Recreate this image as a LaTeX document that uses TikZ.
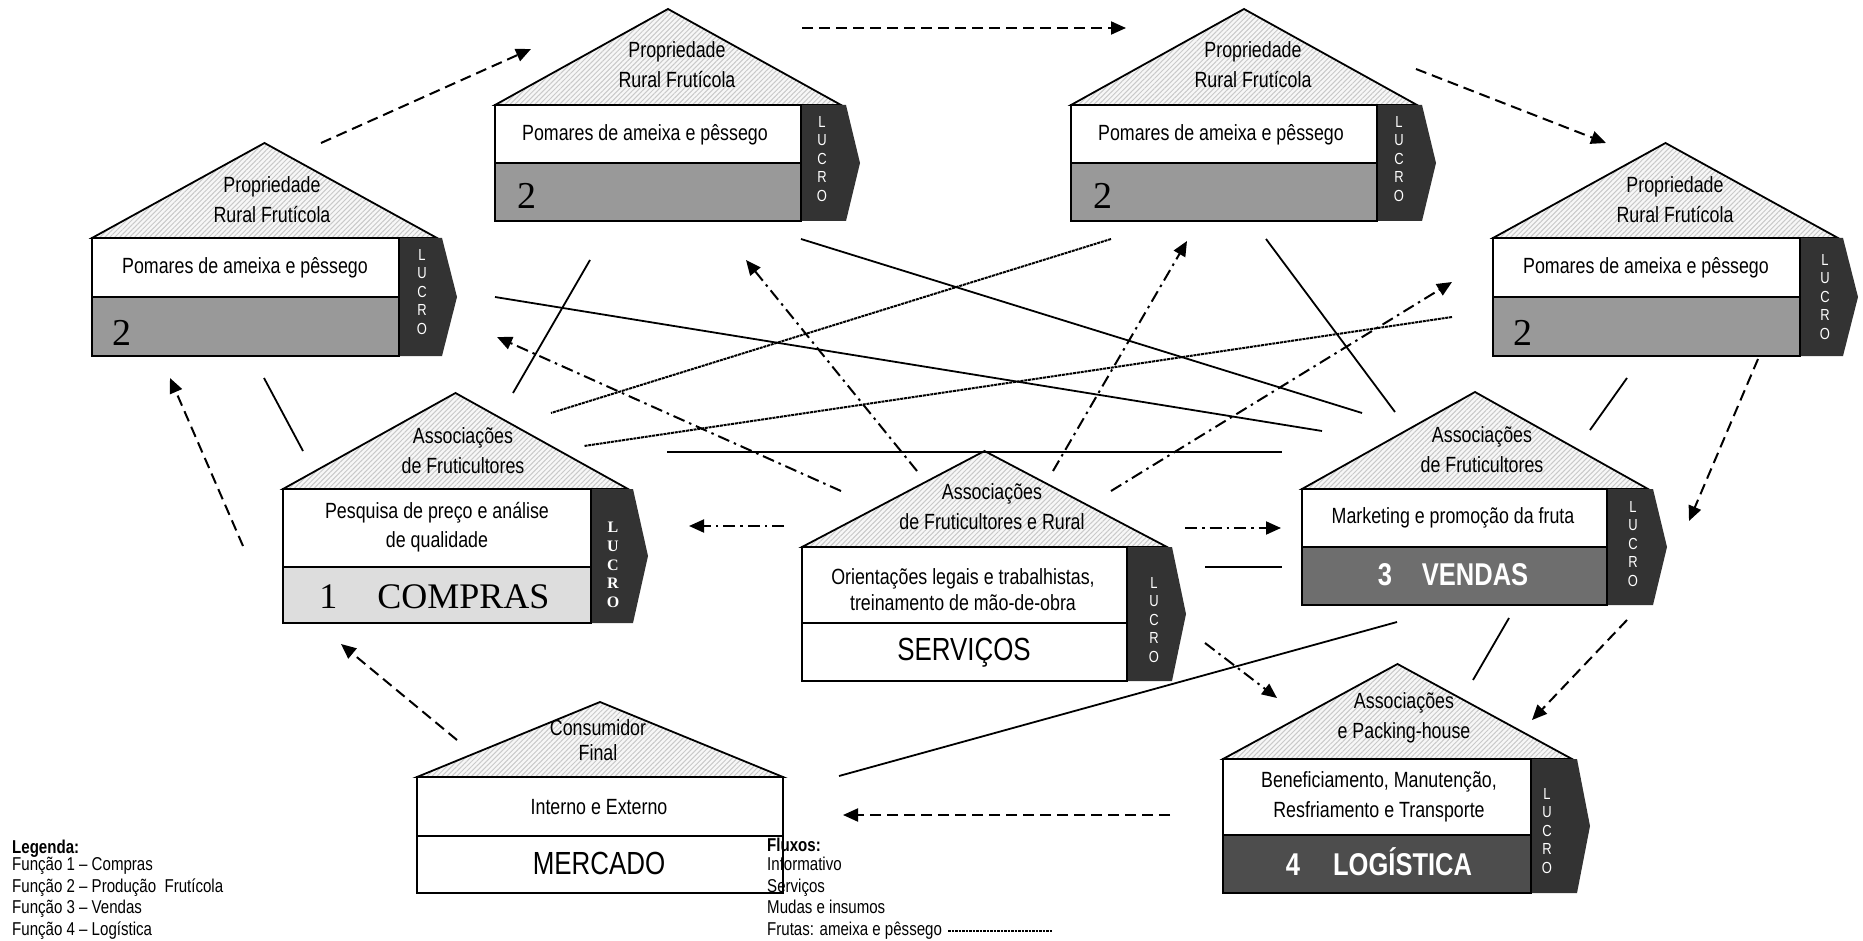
\documentclass[tikz,border=0pt]{standalone}
\usepackage{fontspec}
\setmainfont{Liberation Sans}[FakeStretch=0.81]
\newfontfamily\tnr{Liberation Serif}
\usetikzlibrary{arrows.meta,patterns.meta}
\definecolor{lucro}{HTML}{333333}
\definecolor{prodgray}{HTML}{999999}
\definecolor{compgray}{HTML}{DDDDDD}
\definecolor{vendgray}{HTML}{6E6E6E}
\definecolor{loggray}{HTML}{4D4D4D}
\tikzset{
  roof/.style={draw, line width=1.8pt, line join=miter, preaction={fill=gray!6},
    pattern={Lines[angle=45,distance=3.5pt,line width=1pt]}, pattern color=gray!42},
  boxline/.style={draw, line width=1.8pt},
  rooftxt/.style={inner sep=0pt, align=center, font=\fontsize{22}{30}\selectfont},
  boxtxt/.style={inner sep=0pt, align=center, font=\fontsize{22}{29}\selectfont},
  bigtxt/.style={inner sep=0pt, font=\fontsize{32}{32}\selectfont},
  bigbold/.style={inner sep=0pt, text=white, font=\fontsize{31.5}{32}\selectfont\bfseries},
  numtxt/.style={inner sep=0pt, anchor=base west, font=\tnr\fontsize{38}{38}\selectfont},
  lucrotxt/.style={inner sep=0pt, align=center, text=white, font=\fontsize{16}{18.5}\selectfont},
  legtxt/.style={inner sep=0pt, anchor=base west, font=\fontsize{18.6}{21}\selectfont},
  fruta/.style={line width=2pt, dash pattern=on 11pt off 6pt, -{Triangle[length=15pt,width=13pt]}},
  servico/.style={line width=2pt, dash pattern=on 12pt off 5pt on 2.5pt off 5pt, -{Triangle[length=15pt,width=13pt]}},
  insumo/.style={line width=1.8pt},
  insumofino/.style={line width=2pt, dash pattern=on 3pt off 0.8pt},
}
% L, M, R, P, apex y, base y, white bottom, box bottom, lower fill
\newcommand\casa[9]{%
  \path[roof] (#1,#6) -- ({(#1+#3-5)/2},#5) -- ({#3-5},#6) -- cycle;
  \fill[lucro] (#2,#6) -- (#3,#6) -- (#4,{(#6+#8)/2}) -- (#3,#8) -- (#2,#8) -- cycle;
  \draw[boxline,fill=white] (#1,#6) rectangle (#2,#7);
  \draw[boxline,fill=#9] (#1,#7) rectangle (#2,#8);
}
\begin{document}
\begin{tikzpicture}[x=1pt,y=-1pt]
\useasboundingbox (0,0) rectangle (1863,941);

% ---------- houses ----------
\casa{92}{399}{442}{457}{143}{238}{297}{356}{prodgray}
\casa{495}{801}{846}{860}{9}{105}{163}{221}{prodgray}
\casa{1071}{1377}{1422}{1436}{9}{105}{163}{221}{prodgray}
\casa{1493}{1800}{1843}{1858}{143}{238}{297}{356}{prodgray}
\casa{283}{591}{633}{648}{393}{489}{567}{623}{compgray}
\casa{802}{1127}{1172}{1186}{451}{547}{623}{681}{white}
\casa{1302}{1607}{1653}{1667}{392}{489}{547}{605}{vendgray}
\casa{1223}{1531}{1577}{1590}{664}{759}{835}{893}{loggray}
\path[roof] (417,777) -- (600,702) -- (783,777) -- cycle;
\draw[boxline,fill=white] (417,777) rectangle (783,836);
\draw[boxline,fill=white] (417,836) rectangle (783,893);

% ---------- texts ----------
\node[rooftxt] (p2a-r) at (272,200) {Propriedade\\Rural Frutícola};
\node[rooftxt] (p2b-r) at (677,65) {Propriedade\\Rural Frutícola};
\node[rooftxt] (p2c-r) at (1253,65) {Propriedade\\Rural Frutícola};
\node[rooftxt] (p2d-r) at (1675,200) {Propriedade\\Rural Frutícola};
\node[rooftxt] (p1-r) at (463,451) {Associações\\de Fruticultores};
\node[rooftxt] (sv-r) at (992,507) {Associações\\de Fruticultores e Rural};
\node[rooftxt] (p3-r) at (1482,450) {Associações\\de Fruticultores};
\node[rooftxt] (p4-r) at (1404,718) {Associações\\e Packing-house};
\node[rooftxt, font=\fontsize{22}{25}\selectfont] (mc-r) at (598,740) {Consumidor\\Final};

\node[boxtxt] (p2a-t) at (245,268) {Pomares de ameixa e pêssego};
\node[boxtxt] (p2b-t) at (645,135) {Pomares de ameixa e pêssego};
\node[boxtxt] (p2c-t) at (1221,135) {Pomares de ameixa e pêssego};
\node[boxtxt] (p2d-t) at (1646,268) {Pomares de ameixa e pêssego};
\node[boxtxt] (p1-t) at (437,527) {Pesquisa de preço e análise\\de qualidade};
\node[boxtxt, font=\fontsize{22}{26}\selectfont] (sv-t) at (963,590) {Orientações legais e trabalhistas,\\treinamento de mão-de-obra};
\node[boxtxt] (p3-t) at (1453,518) {Marketing e promoção da fruta};
\node[boxtxt, font=\fontsize{22}{30}\selectfont] (p4-t) at (1379,797) {Beneficiamento, Manutenção,\\Resfriamento e Transporte};
\node[boxtxt] (mc-t) at (599,807) {Interno e Externo};

\node[numtxt] (p2a-n) at (112,345) {2};
\node[numtxt] (p2b-n) at (517,209) {2};
\node[numtxt] (p2c-n) at (1093,209) {2};
\node[numtxt] (p2d-n) at (1513,345) {2};
\node[inner sep=0pt, font=\tnr\fontsize{36}{36}\selectfont] (p1-n) at (434.5,597) {1\hspace{40pt}COMPRAS};
\node[bigtxt] (sv-n) at (964,653) {SERVIÇOS};
\node[bigbold] (p3-n) at (1453,575) {3\hspace{30pt}VENDAS};
\node[bigbold] (p4-n) at (1379,862) {4\hspace{33pt}LOGÍSTICA};
\node[bigtxt] (mc-n) at (599,863) {MERCADO};

\node[lucrotxt] (p2a-l) at (422,292) {L\\U\\C\\R\\O};
\node[lucrotxt] (p2b-l) at (822,159) {L\\U\\C\\R\\O};
\node[lucrotxt] (p2c-l) at (1399,159) {L\\U\\C\\R\\O};
\node[lucrotxt] (p2d-l) at (1825,297) {L\\U\\C\\R\\O};
\node[lucrotxt, font=\tnr\bfseries\fontsize{16}{18.8}\selectfont] (p1-l) at (613,565) {L\\U\\C\\R\\O};
\node[lucrotxt] (sv-l) at (1154,620) {L\\U\\C\\R\\O};
\node[lucrotxt] (p3-l) at (1633,544) {L\\U\\C\\R\\O};
\node[lucrotxt] (p4-l) at (1547,831) {L\\U\\C\\R\\O};

% ---------- legend ----------
\node[legtxt, font=\fontsize{18.6}{21}\selectfont\bfseries] (leg0) at (12,853) {Legenda:};
\node[legtxt] (leg1) at (12,870.5) {Função 1 – Compras};
\node[legtxt] (leg2) at (12,892) {Função 2 – Produção\ \ Frutícola};
\node[legtxt] (leg3) at (12,913.5) {Função 3 – Vendas};
\node[legtxt] (leg4) at (12,935) {Função 4 – Logística};
\node[legtxt, font=\fontsize{18.6}{21}\selectfont\bfseries] (flx0) at (767,851) {Fluxos:};
\node[legtxt] (flx1) at (767,870.5) {Informativo};
\node[legtxt] (flx2) at (767,892) {Serviços};
\node[legtxt] (flx3) at (767,913.5) {Mudas e insumos};
\node[legtxt] (flx4) at (767,935) {Frutas: ameixa e pêssego};
\coordinate (lgA) at (948,931);
\coordinate (lgB) at (1052,931);
\draw[line width=2pt, dash pattern=on 2.5pt off 1pt] (lgA) -- (lgB);

% ---------- coordinates ----------
\coordinate (d1s) at (321,143); \coordinate (d1e) at (531,49);
\coordinate (d2s) at (802,28);  \coordinate (d2e) at (1126,28);
\coordinate (d3s) at (1416,69); \coordinate (d3e) at (1606,143);
\coordinate (d4s) at (1758,359); \coordinate (d4e) at (1689,521);
\coordinate (d5s) at (1627,620); \coordinate (d5e) at (1532,720);
\coordinate (d6s) at (1170,815); \coordinate (d6e) at (843,815);
\coordinate (d7s) at (457,740); \coordinate (d7e) at (341,644);
\coordinate (d8s) at (243,546); \coordinate (d8e) at (170,378);

\coordinate (i9s) at (841,491);  \coordinate (i9e) at (497,337);
\coordinate (i10s) at (917,471); \coordinate (i10e) at (746,260);
\coordinate (i11s) at (1053,471); \coordinate (i11e) at (1187,241);
\coordinate (i12s) at (1111,491); \coordinate (i12e) at (1452,282);
\coordinate (i13s) at (784,526); \coordinate (i13e) at (689,526);
\coordinate (i14s) at (1185,528); \coordinate (i14e) at (1281,528);
\coordinate (i15s) at (1205,643); \coordinate (i15e) at (1277,698);

\coordinate (s1a) at (264,378);  \coordinate (s1b) at (303,451);
\coordinate (s2a) at (590,260);  \coordinate (s2b) at (513,393);
\coordinate (s3a) at (495,297);  \coordinate (s3b) at (1322,431);
\coordinate (s4a) at (801,239);  \coordinate (s4b) at (1362,413);
\coordinate (s5a) at (1266,239); \coordinate (s5b) at (1395,412);
\coordinate (s6a) at (1111,239); \coordinate (s6b) at (551,413);
\coordinate (s7a) at (1452,317); \coordinate (s7b) at (584,446);
\coordinate (s8a) at (667,452);  \coordinate (s8b) at (1282,452);
\coordinate (s9a) at (1627,378); \coordinate (s9b) at (1590,430);
\coordinate (s10a) at (1205,567); \coordinate (s10b) at (1282,567);
\coordinate (s11a) at (1397,622); \coordinate (s11b) at (839,776);
\coordinate (s12a) at (1509,618); \coordinate (s12b) at (1473,680);

% ---------- connectors ----------
\foreach \k in {1,...,8} \draw[fruta] (d\k s) -- (d\k e);
\foreach \k in {9,...,15} \draw[servico] (i\k s) -- (i\k e);
\foreach \k in {1,2,3,4,5,8,9,10,11,12} \draw[insumo] (s\k a) -- (s\k b);
\foreach \k in {6,7} \draw[insumofino] (s\k a) -- (s\k b);
\end{tikzpicture}
\end{document}
